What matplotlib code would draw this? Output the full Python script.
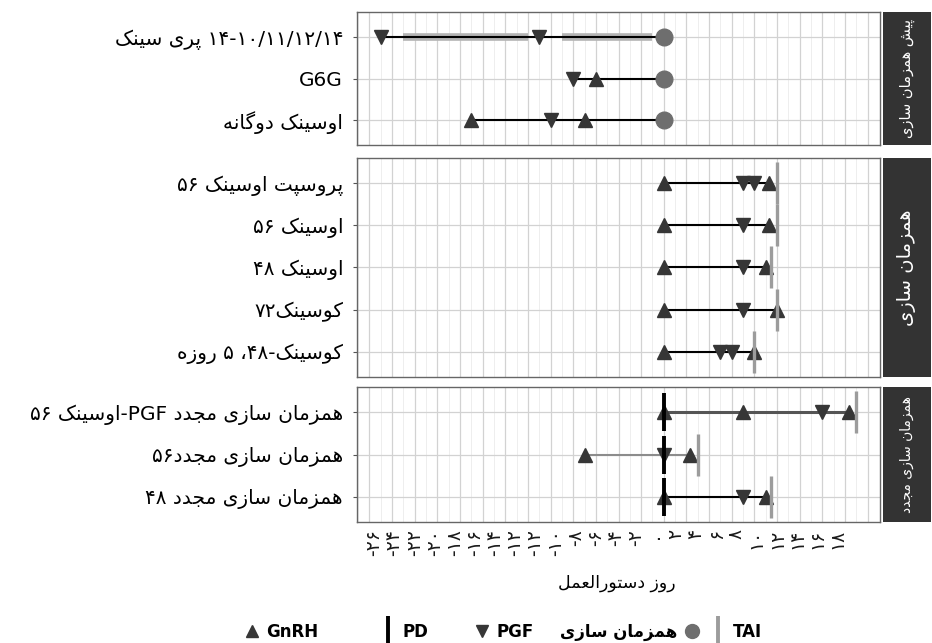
import re
import numpy as np
import matplotlib
matplotlib.use("Agg")
import matplotlib.pyplot as plt
from matplotlib.lines import Line2D
from matplotlib import font_manager
from matplotlib.ft2font import FT2Font

plt.rcParams['font.family'] = ['DejaVu Sans']

# ---------------- data (protocol day, 0 = start of synchronization) ----------------
panel_names = ["پیش همزمان سازی", "همزمان سازی", "همزمان سازی مجدد"]
panel_rows = [
    ["۱۴-۱۰/۱۱/۱۲/۱۴ پری سینک", "G6G", "اوسینک دوگانه"],
    ["پروسپت اوسینک ۵۶", "اوسینک ۵۶", "اوسینک ۴۸", "کوسینک۷۲", "کوسینک-۴۸، ۵ روزه"],
    ["همزمان سازی مجدد PGF-اوسینک ۵۶", "همزمان سازی مجدد۵۶", "همزمان سازی مجدد ۴۸"],
]

# one entry per row, top to bottom
seg_start = [-25, -8, -17, 0, 0, 0, 0, 0, 0, -7, 0]
seg_end = [0, 0, 0, 9.33, 9.33, 9, 10, 8, 16.33, 2.33, 9]
seg_color = ['k', 'k', 'k', 'k', 'k', 'k', 'k', 'k', '#555555', '#8c8c8c', 'k']
gnrh_days = [[], [-6], [-17, -7],
             [0, 9.33], [0, 9.33], [0, 9], [0, 10], [0, 8],
             [0, 7, 16.33], [-7, 2.33], [0, 9]]
pgf_days = [[-25, -11], [-8], [-10],
            [7, 8], [7], [7], [7], [5, 6],
            [14], [0], [7]]
sync_days = [[0], [0], [0], [], [], [], [], [], [], [], []]
pd_days = [[], [], [], [], [], [], [], [], [0], [0], [0]]
tai_days = [[], [], [], [10], [10], [9.5], [10], [8], [17], [3], [9.5]]
# variable interval bands of the presynch row
band_start = [-23, -9]
band_end = [-12, -1]

xtick_labels = ["-۲۶", "-۲۴", "-۲۲", "-۲۰", "-۱۸", "-۱۶", "-۱۴", "-۱۲", "-۱۲", "-۱۰",
                "-۸", "-۶", "-۴", "-۲", "۰", "۲", "۴", "۶", "۸", "۱۰", "۱۲", "۱۴", "۱۶", "۱۸"]
x_title = "روز دستورالعمل"
legend_names = ["GnRH", "PD", "PGF", "همزمان سازی", "TAI"]

# ---------------- persian shaping (matplotlib has no bidi / shaping) ----------------
FORMS = {
    'ا': ('\uFE8D', '\uFE8E', None, None),
    'د': ('\uFEA9', '\uFEAA', None, None),
    'ر': ('\uFEAD', '\uFEAE', None, None),
    'ز': ('\uFEAF', '\uFEB0', None, None),
    'و': ('\uFEED', '\uFEEE', None, None),
    'ت': ('\uFE95', '\uFE96', '\uFE97', '\uFE98'),
    'ج': ('\uFE9D', '\uFE9E', '\uFE9F', '\uFEA0'),
    'س': ('\uFEB1', '\uFEB2', '\uFEB3', '\uFEB4'),
    'ش': ('\uFEB5', '\uFEB6', '\uFEB7', '\uFEB8'),
    'ع': ('\uFEC9', '\uFECA', '\uFECB', '\uFECC'),
    'ل': ('\uFEDD', '\uFEDE', '\uFEDF', '\uFEE0'),
    'م': ('\uFEE1', '\uFEE2', '\uFEE3', '\uFEE4'),
    'ن': ('\uFEE5', '\uFEE6', '\uFEE7', '\uFEE8'),
    'ه': ('\uFEE9', '\uFEEA', '\uFEEB', '\uFEEC'),
    'پ': ('\uFB56', '\uFB57', '\uFB58', '\uFB59'),
    'ک': ('\uFB8E', '\uFB8F', '\uFB90', '\uFB91'),
    'گ': ('\uFB92', '\uFB93', '\uFB94', '\uFB95'),
    'ی': ('\uFBFC', '\uFBFD', '\uFBFE', '\uFBFF'),
}
try:
    cmap = FT2Font(font_manager.findfont("DejaVu Sans")).get_charmap()
    if 0xFB8E not in cmap:
        FORMS['ک'] = ('\uFED9', '\uFEDA', '\uFEDB', '\uFEDC')
    if 0xFBFC not in cmap:
        FORMS['ی'] = ('\uFEEF', '\uFEF0', '\uFEF3', '\uFEF4')
except Exception:
    pass


def shape(s):
    out = []
    for i, c in enumerate(s):
        if c not in FORMS:
            out.append(c)
            continue
        f = FORMS[c]
        prev = s[i-1] if i > 0 else ''
        nxt = s[i+1] if i+1 < len(s) else ''
        a = prev in FORMS and FORMS[prev][2] is not None
        b = f[2] is not None and nxt in FORMS
        if a and b:
            out.append(f[3])
        elif a:
            out.append(f[1])
        elif b:
            out.append(f[2])
        else:
            out.append(f[0])
    return ''.join(out)


LTR = re.compile(r'[A-Za-z0-9\u06F0-\u06F9](?:[A-Za-z0-9\u06F0-\u06F9/\-]*[A-Za-z0-9\u06F0-\u06F9])?')


def fa(s):
    s = shape(s)
    parts = []
    pos = 0
    for m in LTR.finditer(s):
        if m.start() > pos:
            parts.append(s[pos:m.start()][::-1])
        parts.append(m.group())
        pos = m.end()
    if pos < len(s):
        parts.append(s[pos:][::-1])
    return ''.join(parts[::-1])


# ---------------- figure ----------------
W, H = 932, 643
fig = plt.figure(figsize=(W/100, H/100), dpi=100)

tri_col = '#363636'
circ_col = '#6e6e6e'
tai_col = '#9c9c9c'
grid_col = '#d2d2d2'

px_left, px_right = 357, 880
panel_px = [(12, 145), (158, 377), (387, 522)]
strip_fs = [10.5, 14, 10]

xlim = (-27.1, 19.1)
grid_days = np.arange(-26, 19, 2)
label_pos = np.linspace(-25.6, 15.3, len(xtick_labels))

r = 0
for p, (top, bot) in enumerate(panel_px):
    rows = panel_rows[p]
    n = len(rows)
    ax = fig.add_axes([px_left/W, 1-bot/H, (px_right-px_left)/W, (bot-top)/H])
    ax.set_xlim(*xlim)
    ax.set_ylim(n-1+0.6, -0.6)
    ax.set_xticks(grid_days)
    ax.set_yticks(range(n))
    ax.set_yticklabels([fa(t) for t in rows], fontsize=14.5)
    ax.tick_params(axis='x', length=0, labelbottom=False)
    ax.tick_params(axis='y', length=3, color='#555555', pad=7)
    ax.grid(True, color=grid_col, lw=0.9, zorder=0)
    for d in np.arange(-27, 19, 2):
        ax.axvline(d, color='#ebebeb', lw=0.6, zorder=0)
    for sp in ax.spines.values():
        sp.set_color('#666666')
        sp.set_linewidth(1.0)
    ax.set_axisbelow(True)

    for i in range(n):
        k = r + i
        if k == 0:
            for b0, b1 in zip(band_start, band_end):
                ax.plot([b0, b1], [i, i], color='#b4b4b4', lw=5.5, solid_capstyle='butt', zorder=2)
        ax.plot([seg_start[k], seg_end[k]], [i, i], color=seg_color[k],
                lw=2.2 if k == 8 else 1.5, zorder=3)
        if gnrh_days[k]:
            ax.plot(gnrh_days[k], [i]*len(gnrh_days[k]), '^', color=tri_col, ms=10, zorder=4)
        if pgf_days[k]:
            ax.plot(pgf_days[k], [i]*len(pgf_days[k]), 'v', color=tri_col, ms=10, zorder=4)
        if sync_days[k]:
            ax.plot(sync_days[k], [i]*len(sync_days[k]), 'o', color=circ_col, ms=12, zorder=5)
        if tai_days[k]:
            ax.plot(tai_days[k], [i]*len(tai_days[k]), '|', color=tai_col, ms=30, mew=2.4, zorder=5)
        if pd_days[k]:
            ax.plot(pd_days[k], [i]*len(pd_days[k]), '|', color='k', ms=28, mew=2.8, zorder=6)
    r += n

    if p == 2:
        ax.set_xticks(label_pos, minor=True)
        ax.set_xticklabels(xtick_labels, minor=True, rotation=90, fontsize=13.5, color='#1a1a1a')
        ax.tick_params(axis='x', which='minor', length=0, pad=5, labelbottom=True)

    # facet strip
    sax = fig.add_axes([883/W, 1-bot/H, 48/W, (bot-top)/H])
    sax.set_facecolor('#333333')
    sax.set_xticks([])
    sax.set_yticks([])
    for sp in sax.spines.values():
        sp.set_visible(False)
    sax.text(0.5, 0.5, fa(panel_names[p]), color='white', rotation=90,
             ha='center', va='center', fontsize=strip_fs[p], transform=sax.transAxes)

fig.text(617/W, 1-583/H, fa(x_title), ha='center', va='center', fontsize=12.5)

# ---------------- legend ----------------
handles = [
    Line2D([], [], ls='none', marker='^', color=tri_col, ms=9),
    Line2D([], [], ls='none', marker='|', color='k', ms=22, mew=2.8),
    Line2D([], [], ls='none', marker='v', color=tri_col, ms=9),
    Line2D([], [], ls='none', marker='o', color=circ_col, ms=10),
    Line2D([], [], ls='none', marker='|', color=tai_col, ms=22, mew=2.8),
]
# x in px, anchor side, marker before text
leg_x = [244, 380, 474, 700, 710]
leg_loc = ['center left', 'center left', 'center left', 'center right', 'center left']
leg_first = [True, True, True, False, True]
for h, name, x0, loc, mf in zip(handles, legend_names, leg_x, leg_loc, leg_first):
    fig.legend([h], [fa(name)], loc=loc, bbox_to_anchor=(x0/W, 1-632/H),
               frameon=False, borderpad=0, borderaxespad=0, handlelength=1.0,
               handletextpad=0.35, markerfirst=mf,
               prop={'weight': 'bold', 'size': 12})

fig.savefig('out.png', dpi=100)
